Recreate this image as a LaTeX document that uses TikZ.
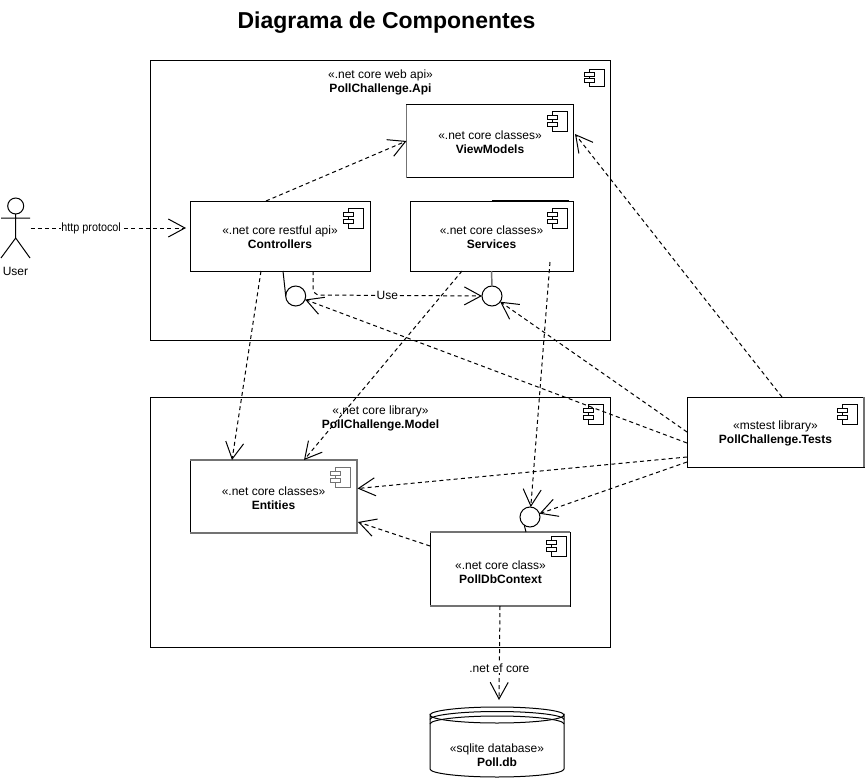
\documentclass[tikz,border=0pt]{standalone}
\usepackage{fontspec}
\usepackage{graphicx}
\setmainfont{Liberation Sans}
\usetikzlibrary{arrows.meta,calc}
\definecolor{edgegrey}{gray}{0.45}
\tikzset{
  x=0.75pt,y=-0.75pt,
  compbox/.style 2 args={draw=black,line width=0.75pt,fill=white,rectangle,inner sep=0pt,outer sep=0pt,
     minimum width=#1*0.75pt,minimum height=#2*0.75pt,align=center,font=\fontsize{9}{10.6}\selectfont},
  txt/.style={inner sep=0pt,outer sep=0pt,align=center,font=\fontsize{9}{10.6}\selectfont},
  edgelabel/.style={fill=white,inner sep=0.6pt,font=\fontsize{9}{10.6}\selectfont},
  lollipop/.style={draw=black,line width=0.75pt,fill=white,circle,inner sep=0pt,outer sep=0pt,minimum size=15pt},
  dep/.style={draw=black,line width=0.75pt,dash pattern=on 3pt off 2.4pt,
     -{Straight Barb[length=12.5pt,width=13.5pt,line width=0.75pt]}},
  stub/.style={draw=black,line width=0.75pt},
  greyedge/.style={draw=edgegrey,line width=1.1pt},
  shapeline/.style={draw=black,line width=0.75pt},
  pics/compicon/.style={code={
     \draw[line width=0.75pt,draw=#1,fill=white] (5,0) rectangle (20,20);
     \draw[line width=0.75pt,draw=#1,fill=white] (0,4) rectangle (10,8.5);
     \draw[line width=0.75pt,draw=#1,fill=white] (0,11) rectangle (10,15.5);
  }},
  pics/compicon/.default=black
}
\newcommand{\cname}[1]{\textbf{#1}}
\newcommand{\lowered}{\rule{0pt}{8.6pt}}
\begin{document}
\begin{tikzpicture}
\useasboundingbox[fill=white] (0,0) rectangle (865,778);

\node[font=\bfseries\fontsize{17.25}{19}\selectfont,inner sep=0pt] (title) at (386.5,22.5) {Diagrama de Componentes};

% containers
\node[compbox={460}{280}] (api) at (380,200) {};
\node[txt] (apilabel) at (380.5,82) {«.net core web api»\\\cname{PollChallenge.Api}};
\pic[yscale=0.85] at (584,69) {compicon};

\node[compbox={460}{250}] (model) at (380,522) {};
\node[txt] (modellabel) at (380.5,418.7) {«.net core library»\\\cname{PollChallenge.Model}};
\pic at (583,404) {compicon};

% components
\node[compbox={167}{73}] (vm) at (490,141) {\lowered«.net core classes»\\\cname{ViewModels}};
\draw[greyedge] (vm.north west) -- (vm.south west);
\pic at (547,111) {compicon};
\node[compbox={180}{70}] (ctrl) at (280,236) {\lowered«.net core restful api»\\\cname{Controllers}};
\pic at (343.5,208) {compicon};
\node[compbox={163}{70}] (svc) at (491.5,236) {\lowered«.net core classes»\\\cname{Services}};
\pic at (547,208) {compicon};
\draw[line width=1pt] ($(svc.north west)+(82,-0.4)$) -- ($(svc.north east)+(-4,-0.4)$);
\node[compbox={167}{73}] (ent) at (273.5,496.5) {\lowered«.net core classes»\\\cname{Entities}};
\draw[greyedge] (ent.north west) -- (ent.north east) -- (ent.south east) -- (ent.south west);
\pic at (330,467) {compicon=edgegrey};
\node[compbox={140}{74}] (pdb) at (500,569) {};
\draw[greyedge] (pdb.north west) -- (pdb.north east) (pdb.south west) -- (pdb.south east);
\node[txt] (pdblabel) at (500.5,572.5) {«.net core class»\\\cname{PollDbContext}};
\pic at (546,536) {compicon};
\node[compbox={177}{70}] (tests) at (775.5,432) {\lowered«mstest library»\\\cname{PollChallenge.Tests}};
\draw[greyedge] (tests.north east) -- (tests.south east);
\pic at (837,404) {compicon};

% interfaces
\node[lollipop] (c1) at (295.7,296) {};
\node[lollipop] (c2) at (492,296) {};
\node[lollipop] (c3) at (530,517) {};
\draw[stub] ($(ctrl.south west)+(93,0)$) -- (c1.west);
\draw[greyedge] (svc.south) -- (c2.north);
\draw[stub] ($(pdb.north west)+(96,0)$) -- (c3.235);

% database
\node[inner sep=0pt,outer sep=0pt,minimum width=100.5pt,minimum height=52.5pt] (db) at (497,742) {};
\draw[shapeline,fill=white] (430,715) arc[start angle=180,end angle=0,x radius=67,y radius=8]
   -- (564,769) arc[start angle=0,end angle=-180,x radius=67,y radius=-8] -- cycle;
\foreach \yy in {715,719.5,724}{
  \draw[shapeline] (430,\yy) arc[start angle=180,end angle=360,x radius=67,y radius=8];
}
\node[txt] (dblabel) at (497,755) {«sqlite database»\\\cname{Poll.db}};

% actor
\node[inner sep=0pt,outer sep=0pt,minimum width=22.5pt,minimum height=39pt] (actor) at (15.5,232) {};
\draw[shapeline] (15.7,206) circle[radius=8];
\draw[shapeline] (15.7,214) -- (15.7,238) (1,218) -- (30,218) (1,258) -- (15.7,238) -- (30,258);
\node[txt] (userlabel) at (15.5,271) {User};

% connectors
\draw[dep] ($(actor.east)+(0,-4)$) -- node[edgelabel,pos=0.39] (lhttp) {\scalebox{0.9}[1]{http protocol}} ($(ctrl.west)+(-4,-8)$);
\draw[dep] ($(ctrl.north west)+(76,0)$) -- (vm.west);
\draw[dep] ($(ctrl.south west)+(71,0)$) -- ($(ent.north west)+(42,0)$);
\draw[dep,rounded corners=5pt] ($(ctrl.south west)+(123,0)$) -- ++(0,24) -- node[edgelabel,pos=0.44] (luse) {Use} (c2.west);
\draw[dep] ($(svc.south west)+(52,0)$) -- ($(ent.north west)+(114,0)$);
\draw[dep] ($(svc.south west)+(140,-9)$) -- (c3);
\draw[dep] ($(tests.west)+(0,11)$) -- (c1);
\draw[dep] (tests.west) -- (c2);
\draw[dep] ($(tests.north west)+(95,0)$) -- ($(vm.east)+(1.5,-7)$);
\draw[dep] ($(tests.south west)+(0,-10)$) -- ($(ent.east)+(0.5,-8)$);
\draw[dep] ($(tests.south west)+(0,-5)$) -- (c3);
\draw[dep] ($(pdb.west)+(0,-23)$) -- ($(ent.south east)+(1,-11)$);
\draw[dep] (pdb.south) -- node[edgelabel,pos=0.66] (lef) {.net ef core} ($(db.north)+(2,-7)$);
\end{tikzpicture}
\end{document}
